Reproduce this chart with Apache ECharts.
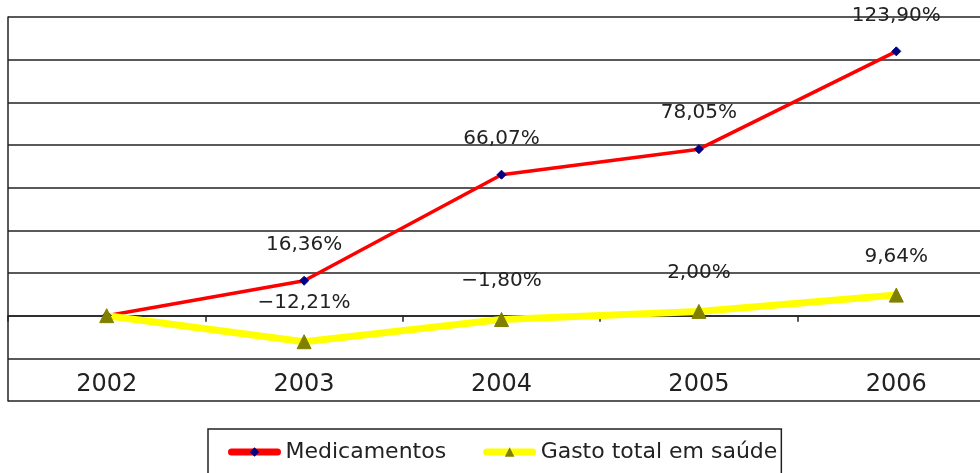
<!DOCTYPE html>
<html>
<head>
<meta charset="UTF-8">
<script src="https://cdn.jsdelivr.net/npm/echarts@6/dist/echarts.min.js"></script>
<style>
  html, body { margin: 0; padding: 0; background: #fff; }
  #chart { width: 980px; height: 473px; }
</style>
</head>
<body>
<div id="chart"></div>
<script>
var anos = ['2002', '2003', '2004', '2005', '2006'];
var medicamentos = [0, 16.36, 66.07, 78.05, 123.90];
var gastoTotal = [0, -12.21, -1.80, 2.00, 9.64];

// formato pt-BR: virgula decimal
function pct(p) {
    if (p.dataIndex === 0) return '';
    var s = Math.abs(p.value).toFixed(2).replace('.', ',') + '%';
    return (p.value < 0 ? '\u2212' : '') + s;
}

var labelStyle = {
    show: true,
    position: 'top',
    distance: 21,
    formatter: pct,
    color: '#222',
    fontSize: 20,
    fontFamily: 'DejaVu Sans'
};

var chart = echarts.init(document.getElementById('chart'));
chart.setOption({
    animation: false,
    grid: { left: 8, width: 987, top: 17, height: 384, outerBoundsMode: 'none' },
    xAxis: [
        {
            // eixo no zero, so linha e marcas
            type: 'category',
            data: anos,
            boundaryGap: true,
            axisLine: { onZero: true, lineStyle: { color: '#222', width: 1.5 } },
            axisTick: { show: true, length: 6, lineStyle: { color: '#222', width: 1.5 } },
            axisLabel: { show: false }
        },
        {
            // rotulos dos anos, na parte de baixo
            type: 'category',
            data: anos,
            position: 'bottom',
            boundaryGap: true,
            axisLine: { show: false, onZero: false },
            axisTick: { show: false },
            axisLabel: { interval: 0, margin: -28, color: '#222', fontSize: 24, fontFamily: 'DejaVu Sans' }
        }
    ],
    yAxis: {
        type: 'value',
        min: -40,
        max: 140,
        interval: 20,
        axisLine: { show: true, lineStyle: { color: '#222', width: 1.5 } },
        axisTick: { show: false },
        axisLabel: { show: false },
        splitLine: { lineStyle: { color: '#222', width: 1.5 } }
    },
    legend: {
        left: 208,
        top: 429,
        padding: [12, 4, 20, 20],
        itemGap: 37,
        itemWidth: 46,
        itemHeight: 12,
        borderColor: '#222',
        borderWidth: 1.5,
        backgroundColor: '#fff',
        textStyle: { color: '#222', fontSize: 22, fontFamily: 'DejaVu Sans', padding: [0, 0, 0, 3] },
        data: [
            { name: 'Medicamentos', lineStyle: { width: 7, cap: 'round' } },
            { name: 'Gasto total em saúde', lineStyle: { width: 7, cap: 'round' } }
        ]
    },
    series: [
        {
            name: 'Medicamentos',
            type: 'line',
            data: medicamentos,
            symbol: 'diamond',
            symbolSize: 9,
            itemStyle: { color: '#000080', borderColor: '#000080' },
            lineStyle: { color: '#ff0000', width: 3.5 },
            label: labelStyle
        },
        {
            name: 'Gasto total em saúde',
            type: 'line',
            data: gastoTotal,
            symbol: 'triangle',
            symbolSize: 14,
            itemStyle: { color: '#808000', borderColor: '#808000' },
            lineStyle: { color: '#ffff00', width: 7 },
            label: labelStyle
        }
    ]
});
</script>
</body>
</html>
